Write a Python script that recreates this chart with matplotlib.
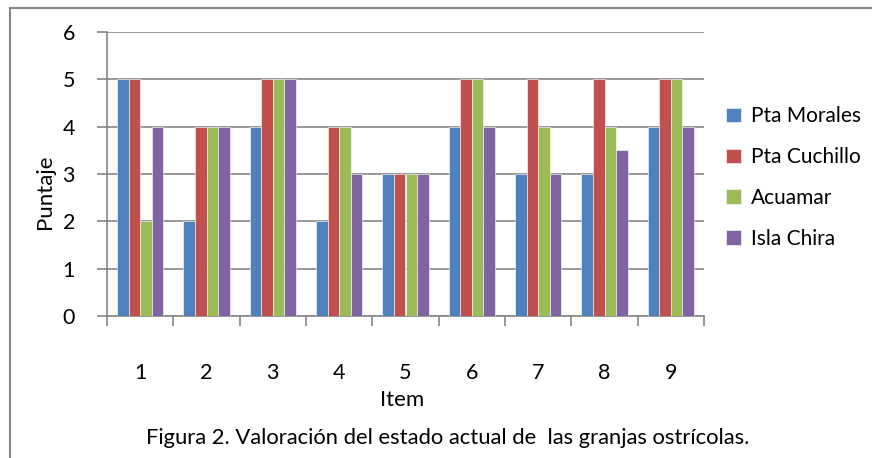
import matplotlib
matplotlib.use('Agg')
import matplotlib.pyplot as plt
import numpy as np
from matplotlib.patches import Rectangle

plt.rcParams['font.family'] = ['Lato', 'DejaVu Sans']

items = ['1', '2', '3', '4', '5', '6', '7', '8', '9']
series = ['Pta Morales', 'Pta Cuchillo', 'Acuamar', 'Isla Chira']
pta_morales = [5, 2, 4, 2, 3, 4, 3, 3, 4]
pta_cuchillo = [5, 4, 5, 4, 3, 5, 5, 5, 5]
acuamar = [2, 4, 5, 4, 3, 5, 4, 4, 5]
isla_chira = [4, 4, 5, 3, 3, 4, 3, 3.5, 4]
colors = ['#4F81BD', '#C0504D', '#9BBB59', '#8064A2']

gray = '#868686'

fig = plt.figure(figsize=(8.72, 4.58), dpi=100)
ax = fig.add_axes([107/872, 1 - 316/458, (704 - 107)/872, (316 - 32)/458])

x = np.arange(1, len(items) + 1)
w = 0.174
for i, (vals, c, name) in enumerate(zip([pta_morales, pta_cuchillo, acuamar, isla_chira], colors, series)):
  ax.bar(x + (i - 1.5)*w, vals, width=w, color=c, edgecolor='#ffffff', linewidth=0.4,
         label=name, zorder=3)

ax.set_xlim(0.5, 9.5)
ax.set_ylim(0, 6)
ax.set_yticks(range(7))
ax.yaxis.grid(True, color=gray, linewidth=1.2, zorder=0)
ax.set_axisbelow(True)

ax.set_xticks(x)
ax.set_xticklabels(items)
ax.set_xticks(np.arange(0.5, 10, 1), minor=True)
ax.tick_params(axis='x', which='major', length=0, pad=34, labelsize=15.5)
ax.tick_params(axis='x', which='minor', length=7, color=gray, width=1.2)
ax.tick_params(axis='y', length=7, color=gray, width=1.2, pad=16, labelsize=15.5)

for s in ['top', 'right']:
  ax.spines[s].set_visible(False)
for s in ['left', 'bottom']:
  ax.spines[s].set_color(gray)
  ax.spines[s].set_linewidth(1.2)

fig.text(45/872, 1 - 192/458, 'Puntaje', rotation=90, ha='center', va='center', fontsize=16)
fig.text(402/872, 1 - 400/458, 'Item', ha='center', va='center', fontsize=16)
fig.text(448/872, 1 - 438/458, 'Figura 2. Valoración del estado actual de  las granjas ostrícolas.',
         ha='center', va='center', fontsize=15.8)

leg = fig.legend(loc='upper left', bbox_to_anchor=(718/872, 1 - 98/458), frameon=False,
                 fontsize=15, handlelength=0.7, handleheight=0.7, handletextpad=0.5,
                 labelspacing=1.0, borderaxespad=0)

# outer chart border
fig.patches.append(Rectangle((10/872, -0.1), 1.2, 1 - 8/458 + 0.1, transform=fig.transFigure,
                             fill=False, edgecolor=gray, linewidth=1.5))

fig.savefig('out.png', dpi=100)
